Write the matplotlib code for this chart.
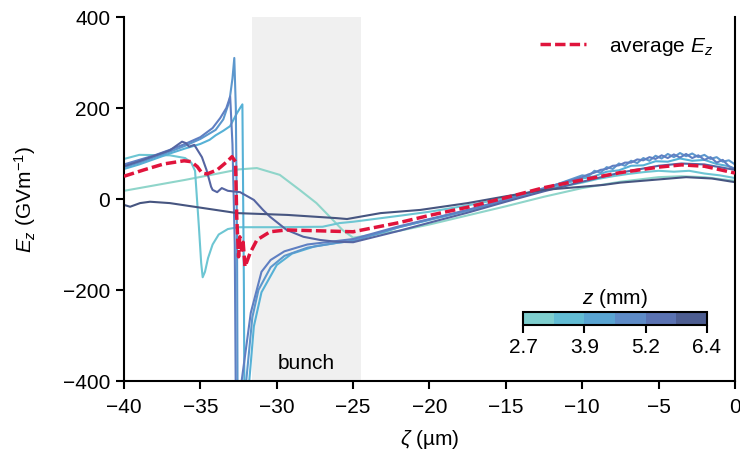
import numpy as np
import matplotlib.pyplot as plt
from matplotlib.colors import LinearSegmentedColormap, ListedColormap, BoundaryNorm
from matplotlib.cm import ScalarMappable

plt.rcParams['font.family'] = ['Liberation Sans', 'DejaVu Sans']
plt.rcParams['mathtext.fontset'] = 'custom'
plt.rcParams['mathtext.rm'] = 'Liberation Sans'
plt.rcParams['mathtext.it'] = 'Liberation Sans:italic'
plt.rcParams['font.size'] = 15

# positions of the probe along the plasma (mm)
z_mm = [2.7, 3.32, 3.93, 4.55, 5.17, 5.78, 6.4]

# longitudinal field along zeta for every z (GV/m)
zeta_a = [-40, -38, -36, -34, -32.5, -31.3, -29.8, -28.5, -27.4, -26.5, -25.7, -25, -22, -20, -17.5, -15,
          -12.5, -10, -7.5, -5, -3.5, -2, 0]
ez_a = [18, 30, 42, 55, 65, 68, 53, 20, -9, -40, -68, -85, -70, -56, -36, -16, 5, 24, 38, 48, 50, 48, 40]

zeta_b = [-40, -39, -37, -36, -35.6, -35.35, -35.1, -34.95, -34.85, -34.7, -34.5, -34.2, -33.8, -33.2, -32.5,
          -30, -27, -25.9, -25, -22, -20, -17.5, -15, -12.5, -10, -9, -8, -7, -6, -5, -4, -3, -2, -1, 0]
ez_b = [88, 97, 96, 90, 80, 62, -60, -140, -172, -160, -130, -100, -78, -66, -62,
        -62, -61, -53, -50, -37, -28, -14, 2, 20, 36, 44, 50, 55, 59, 62, 60, 62, 56, 52, 46]

zeta_c = [-40, -39, -38, -37, -36, -35, -34.4, -34, -33.5, -33.06, -32.6, -32.4, -32.25, -32.15, -32.1,
          -31.8, -31.5, -31.0, -30.0, -29.0, -27.5, -26, -25, -22, -20, -17.5, -15, -12.5,
          -10, -9.2, -8.4, -7.6, -6.8, -6.0, -5.2, -4.4, -3.6, -2.8, -2.0, -1.2, -0.4, 0]
ez_c = [66, 76, 88, 100, 111, 121, 130, 140, 150, 160, 189, 200, 208, -200, -600,
        -400, -280, -205, -145, -120, -104, -96, -92, -62, -46, -26, -4, 20,
        45, 50, 60, 63, 73, 74, 83, 82, 89, 84, 86, 77, 72, 66]

zeta_d = [-40, -39, -38, -37, -36, -35, -34, -33.5, -33.1, -32.9, -32.78, -32.68, -32.6, -32.55,
          -32.0, -31.6, -31.2, -30.4, -29.5, -28, -26, -25, -22, -20, -17.5, -15, -12.5,
          -10.0, -9.6, -9.2, -8.8, -8.4, -8.0, -7.6, -7.2, -6.8, -6.4, -6.0, -5.6, -5.2, -4.8,
          -4.4, -4.0, -3.6, -3.2, -2.8, -2.4, -2.0, -1.6, -1.2, -0.8, -0.4, 0.0]
ez_d = [70, 80, 92, 104, 117, 132, 152, 175, 215, 265, 310, 200, -100, -600,
        -400, -260, -200, -150, -125, -107, -96, -92, -62, -45, -25, -2, 22,
        52, 50, 62, 58, 70, 66, 78, 73, 84, 79, 90, 84, 95, 89,
        99, 92, 101, 94, 100, 92, 97, 88, 92, 82, 85, 76]

zeta_e = [-40, -39, -38, -37, -36, -35, -34.2, -33.7, -33.3, -33.05, -32.9, -32.75, -32.65,
          -32.3, -31.7, -31.0, -30.4, -29.5, -28, -26, -25, -22, -20, -17.5, -15, -12.5,
          -10.0, -9.6, -9.2, -8.8, -8.4, -8.0, -7.6, -7.2, -6.8, -6.4, -6.0, -5.6, -5.2, -4.8,
          -4.4, -4.0, -3.6, -3.2, -2.8, -2.4, -2.0, -1.6, -1.2, -0.8, -0.4, 0.0]
ez_e = [76, 86, 96, 108, 121, 136, 156, 178, 200, 225, 120, -100, -600,
        -400, -250, -160, -134, -115, -100, -92, -88, -60, -44, -24, -1, 24,
        48, 54, 58, 64, 66, 73, 74, 80, 80, 87, 85, 92, 88, 96,
        90, 98, 91, 99, 90, 96, 86, 92, 80, 86, 72, 66]

zeta_f = [-40, -39, -38, -37, -36.2, -35.96, -35.74, -35.4, -34.9, -34.6, -34.3, -34.2, -33.9, -33.6,
          -33.2, -32.4, -31.5, -30.9, -30.44, -29.35, -28.26, -27.17, -26.08, -25, -22, -20, -17.5,
          -15, -12.5, -10, -7.5, -5, -3.5, -2, 0]
ez_f = [72, 83, 95, 107, 126, 123, 115, 119, 92, 64, 27, 20, 15, 24,
        18, 15, -2, -24, -39, -68, -83, -90, -94, -95, -70, -52, -30,
        -6, 17, 38, 58, 73, 78, 76, 64]

zeta_g = [-40, -39.6, -38.95, -38.3, -37, -34.8, -32.6, -29.3, -26.1, -25.4, -23.2, -20.6, -17.5, -15,
          -12.5, -10, -8.6, -7.5, -5, -3.2, -1.5, 0]
ez_g = [-13, -17, -9, -6, -9, -20, -31, -35, -42, -44, -31, -24, -9, 6,
        20, 27, 31, 36, 43, 48, 45, 37]

zetas = [zeta_a, zeta_b, zeta_c, zeta_d, zeta_e, zeta_f, zeta_g]
fields = [ez_a, ez_b, ez_c, ez_d, ez_e, ez_f, ez_g]

# mean field over all z
zeta_avg = [-40, -38.7, -37.4, -36.07, -35.6, -35.2, -34.9, -34.57, -33.9, -33.26, -32.93, -32.7, -32.62,
            -32.5, -32.42, -32.3, -32.2, -32.08, -31.75, -31.3, -30.44, -29.35, -27.17, -25,
            -22, -20, -17.5, -15, -12.5, -10, -7.5, -5, -3.5, -2, 0]
ez_avg = [50, 64, 77, 84, 82, 71, 57, 55, 64, 82, 93, 82, -40,
          -127, -83, -112, -95, -149, -119, -90, -72, -68, -70, -72,
          -52, -36, -18, 3, 25, 42, 58, 70, 75, 72, 57]

bunch_zeta = (-31.6, -24.5)
cbar_labels = ['2.7', '3.9', '5.2', '6.4']

line_cmap = LinearSegmentedColormap.from_list(
    'zcol', ['#8fd5ca', '#6dc6d3', '#56b1d6', '#5c97cd', '#5f7fc2', '#5565a2', '#465580'])
norm = plt.Normalize(min(z_mm), max(z_mm))

fig = plt.figure(figsize=(7.4, 4.57), dpi=100)
ax = fig.add_axes([0.1676, 0.1663, 0.8256, 0.7965])

ax.axvspan(*bunch_zeta, color='#f0f0f0', lw=0, zorder=0)
ax.text(np.mean(bunch_zeta), -362, 'bunch', ha='center', va='center')

for z, zz, ez in zip(z_mm, zetas, fields):
    ax.plot(zz, ez, color=line_cmap(norm(z)), lw=1.5, zorder=2)

ax.plot(zeta_avg, ez_avg, color='#e0143c', lw=2.5, ls=(0, (3, 1.2)), zorder=3, label='average $E_z$')

ax.set_xlim(-40, 0)
ax.set_ylim(-400, 400)
ax.set_xticks(np.arange(-40, 1, 5))
ax.set_yticks([-400, -200, 0, 200, 400])
ax.set_xlabel(r'$\zeta$ (µm)', labelpad=8)
ax.set_ylabel(r'$E_z$ (GVm$^{-1}$)', labelpad=18)
ax.spines['top'].set_visible(False)
for s in ax.spines.values():
    s.set_linewidth(1.5)
ax.tick_params(width=1.5, length=6, pad=4)
ax.tick_params(axis='x', pad=6)

ax.legend(loc='upper right', frameon=False, handlelength=2.2, handletextpad=1.1,
          bbox_to_anchor=(0.995, 1.0))

# discrete colour bar for z, ticks on every second bin edge
cax = fig.add_axes([0.7068, 0.2888, 0.2486, 0.0285])
bounds = np.linspace(min(z_mm), max(z_mm), 7)
mids = (bounds[:-1] + bounds[1:]) / 2
seg_cmap = ListedColormap([line_cmap(norm(m)) for m in mids])
sm = ScalarMappable(norm=BoundaryNorm(bounds, seg_cmap.N), cmap=seg_cmap)
cb = fig.colorbar(sm, cax=cax, orientation='horizontal', ticks=bounds[::2])
cb.ax.minorticks_off()
cb.ax.set_xticklabels(cbar_labels)
cb.outline.set_linewidth(1.5)
cb.ax.tick_params(width=1.5, length=6, pad=3, labelsize=15)
cb.ax.set_title('$z$ (mm)', fontsize=15, pad=6)

fig.savefig('out.png', dpi=100)
